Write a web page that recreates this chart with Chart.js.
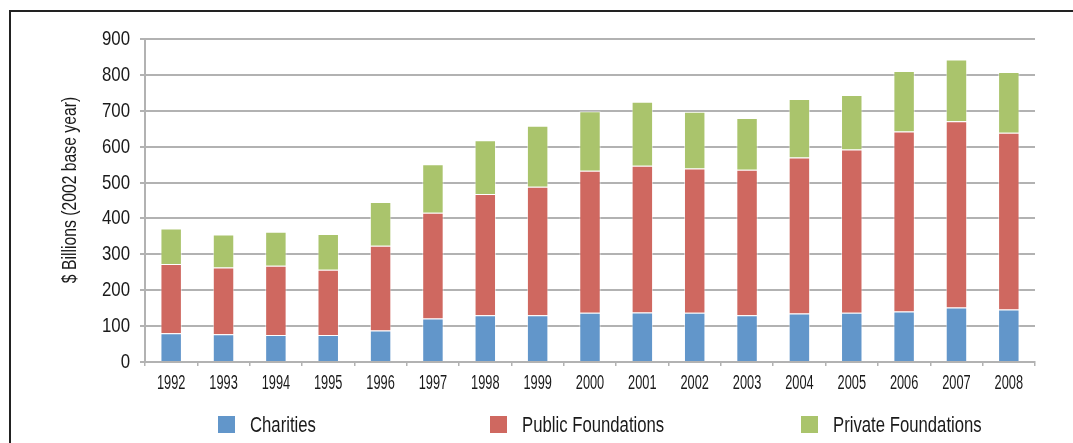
<!DOCTYPE html>
<html>
<head>
<meta charset="utf-8">
<script src="https://cdn.jsdelivr.net/npm/chart.js@4.4.0/dist/chart.umd.min.js"></script>
<style>
    html, body { margin: 0; padding: 0; background: #fff; }
    #wrap { position: relative; width: 1073px; height: 443px; overflow: hidden; }
    #frame {
        position: absolute; left: 9px; top: 10px; right: -5px; bottom: -5px;
        border-left: 2px solid #222; border-top: 2px solid #222;
    }
    canvas { position: absolute; left: 0; top: 0; }
</style>
</head>
<body>
<div id="wrap">
    <div id="frame"></div>
    <canvas id="chart" width="1073" height="443"></canvas>
</div>
<script>
// ========== Data ==========

const years = ['1992', '1993', '1994', '1995', '1996', '1997', '1998', '1999', '2000',
    '2001', '2002', '2003', '2004', '2005', '2006', '2007', '2008'];

const charities = [80, 77, 75, 75, 88, 121, 130, 130, 137, 138, 137, 130, 135, 137, 141, 152, 146];
const publicFoundations = [193, 186, 193, 182, 236, 295, 338, 358, 396, 409, 402, 406, 435, 455, 501, 519, 493];
const privateFoundations = [99, 92, 95, 100, 122, 135, 150, 170, 166, 178, 158, 144, 163, 152, 169, 172, 169];

const yTicks = [0, 100, 200, 300, 400, 500, 600, 700, 800, 900];
const yTitle = '$ Billions (2002 base year)';

// ========== Styling ==========

// no narrow face installed, so text is squeezed horizontally by hand
const FONT = '"Liberation Sans", Arial, sans-serif';
const TEXT = '#1a1a1a';
const GRID = '#b2b2b2';

function squeezedText(ctx, text, x, y, sx, align) {
    ctx.save();
    ctx.translate(x, y);
    ctx.scale(sx, 1);
    ctx.textAlign = align;
    ctx.fillText(text, 0, 0);
    ctx.restore();
}

// tick labels, axis title and legend, all placed from the chart's own scales
const labelPlugin = {
    id: 'narrowLabels',
    afterDraw(chart) {
        const ctx = chart.ctx;
        const xs = chart.scales.x;
        const ys = chart.scales.y;
        ctx.save();
        ctx.fillStyle = TEXT;
        ctx.textBaseline = 'alphabetic';

        // y ticks
        ctx.font = '21px ' + FONT;
        ys.ticks.forEach(t => {
            squeezedText(ctx, String(t.value), ys.right - 15, ys.getPixelForValue(t.value) + 6, 0.8, 'right');
        });

        // x ticks
        ctx.font = '20px ' + FONT;
        years.forEach((yr, i) => {
            squeezedText(ctx, yr, xs.getPixelForValue(i), xs.top + 27, 0.64, 'center');
        });

        // y title
        ctx.save();
        ctx.translate(76, 190);
        ctx.rotate(-Math.PI / 2);
        ctx.font = '21px ' + FONT;
        squeezedText(ctx, yTitle, 0, 0, 0.75, 'center');
        ctx.restore();

        // legend, items evenly spread like the original
        const boxX = [218, 490, 801];
        ctx.font = '22px ' + FONT;
        chart.data.datasets.forEach((ds, i) => {
            ctx.fillStyle = ds.backgroundColor;
            ctx.fillRect(boxX[i], 416, 17, 17);
            ctx.fillStyle = TEXT;
            squeezedText(ctx, ds.label, boxX[i] + 32, 432, 0.76, 'left');
        });
        ctx.restore();
    }
};

function makeDataset(label, data, color) {
    return {
        label: label,
        data: data,
        backgroundColor: color,
        borderColor: 'rgba(255,255,255,0.5)',
        borderWidth: 1,
        categoryPercentage: 0.41,
        barPercentage: 1
    };
}

const ctx = document.getElementById('chart').getContext('2d');
new Chart(ctx, {
    type: 'bar',
    data: {
        labels: years,
        datasets: [
            makeDataset('Charities', charities, '#6296CA'),
            makeDataset('Public Foundations', publicFoundations, '#CF6860'),
            makeDataset('Private Foundations', privateFoundations, '#AAC46C')
        ]
    },
    options: {
        responsive: false,
        animation: false,
        devicePixelRatio: 1,
        layout: { padding: { left: 0, right: 38, top: 39, bottom: 0 } },
        plugins: {
            legend: { display: false },
            tooltip: { enabled: false }
        },
        scales: {
            x: {
                stacked: true,
                offset: true,
                afterFit: scale => { scale.height = 81; },
                grid: {
                    offset: true,
                    drawOnChartArea: false,
                    tickLength: 4,
                    color: GRID,
                    lineWidth: 1.5
                },
                border: { color: GRID, width: 2 },
                ticks: { display: false }
            },
            y: {
                stacked: true,
                min: 0,
                max: 900,
                afterFit: scale => { scale.width = 145; },
                afterBuildTicks: scale => { scale.ticks = yTicks.map(v => ({ value: v })); },
                grid: {
                    color: GRID,
                    lineWidth: 2,
                    tickLength: 5
                },
                border: { color: GRID, width: 2 },
                ticks: { display: false }
            }
        }
    },
    plugins: [labelPlugin]
});
</script>
</body>
</html>
